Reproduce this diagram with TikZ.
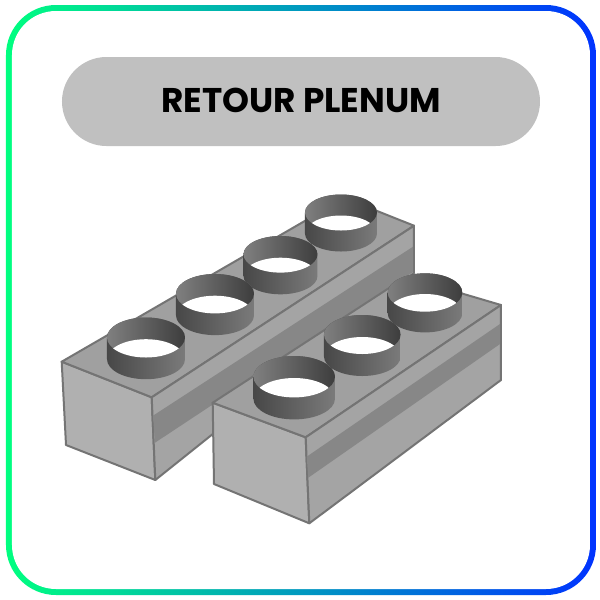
\documentclass[tikz,border=0pt]{standalone}
\usepackage{fontspec}
\setmainfont{Poppins}
\usepackage{xcolor}
\definecolor{framegreen}{HTML}{00FF80}
\definecolor{frameblue}{HTML}{0033FF}
\definecolor{pillgray}{HTML}{C0C0C0}
\definecolor{edgegray}{HTML}{747474}
\definecolor{frontgray}{HTML}{B0B0B0}
\definecolor{topgray}{HTML}{A0A0A0}
\definecolor{sidegray}{HTML}{A4A4A4}
\definecolor{bandgray}{HTML}{878787}

\begin{document}
\begin{tikzpicture}[x=0.02cm,y=-0.02cm,
		boxface/.style={draw=edgegray,line width=0.04cm,line join=round},
		wallout/.style={left color=black!72,middle color=black!64,right color=black!52},
		wallin/.style={left color=black!50,middle color=black!64,right color=black!76}]
			\useasboundingbox (0,0) rectangle (600,600);
			\shade[left color=framegreen,right color=frameblue,rounded corners=1cm] (6,5) rectangle (596,595);
			\fill[white,rounded corners=0.88cm] (12,11) rectangle (590,589);
			\fill[pillgray,rounded corners=0.89cm] (62,57) rectangle (540,146);
			\node (title) at (301,100.5) {\fontsize{19.5}{20}\selectfont\bfseries RETOUR PLENUM};
			\fill[boxface,fill=frontgray] (61.7,361.7) -- (151.7,397.3) -- (155.3,480) -- (66,445) -- cycle;
			\fill[boxface,fill=topgray] (61.7,361.7) -- (344.5,198) -- (414,225.7) -- (151.7,397.3) -- cycle;
			\fill[boxface,fill=sidegray] (151.7,397.3) -- (414,225.7) -- (414,273) -- (155.3,480) -- cycle;
			\fill[boxface,fill=bandgray,draw=none] (153,415.7) -- (413,246.7) -- (413,272) -- (155,442.7) -- cycle;
			\foreach \x/\y/\rx/\ry/\h in {341/212.5/36/18/21,280.5/254.3/37/18.3/21.7,215/293.7/39/19.7/21.7,146/337.5/39/20/21.7}
			{
				\shade[wallout] (\x-\rx,\y) -- (\x-\rx,\y+\h) arc (180:0:{\rx} and {\ry}) -- (\x+\rx,\y) arc (0:-180:{\rx} and {\ry}) -- cycle;
				\shade[wallin] (\x,\y) ellipse ({\rx} and {\ry});
				\begin{scope}
					\clip (\x,\y) ellipse ({\rx} and {\ry});
					\fill[white] (\x,\y+\h) ellipse ({\rx} and {\ry});
				\end{scope}
			}
			\fill[boxface,fill=frontgray] (212.7,402.7) -- (305.7,437.3) -- (309.3,523.3) -- (214,484) -- cycle;
			\fill[boxface,fill=topgray] (212.7,402.7) -- (406,277) -- (501,305) -- (305.7,437.3) -- cycle;
			\fill[boxface,fill=sidegray] (305.7,437.3) -- (501,305) -- (501,380) -- (309.3,523.3) -- cycle;
			\fill[boxface,fill=bandgray,draw=none] (306.7,456.7) -- (500,324) -- (500,344) -- (308.3,477.7) -- cycle;
			\foreach \x/\y/\rx/\ry/\h in {425/292.5/37.3/19.2/20.7,362.3/334.5/38.3/19.5/22,294.2/376.7/40.8/20.7/22}
			{
				\shade[wallout] (\x-\rx,\y) -- (\x-\rx,\y+\h) arc (180:0:{\rx} and {\ry}) -- (\x+\rx,\y) arc (0:-180:{\rx} and {\ry}) -- cycle;
				\shade[wallin] (\x,\y) ellipse ({\rx} and {\ry});
				\begin{scope}
					\clip (\x,\y) ellipse ({\rx} and {\ry});
					\fill[white] (\x,\y+\h) ellipse ({\rx} and {\ry});
				\end{scope}
			}
		\end{tikzpicture}
\end{document}
